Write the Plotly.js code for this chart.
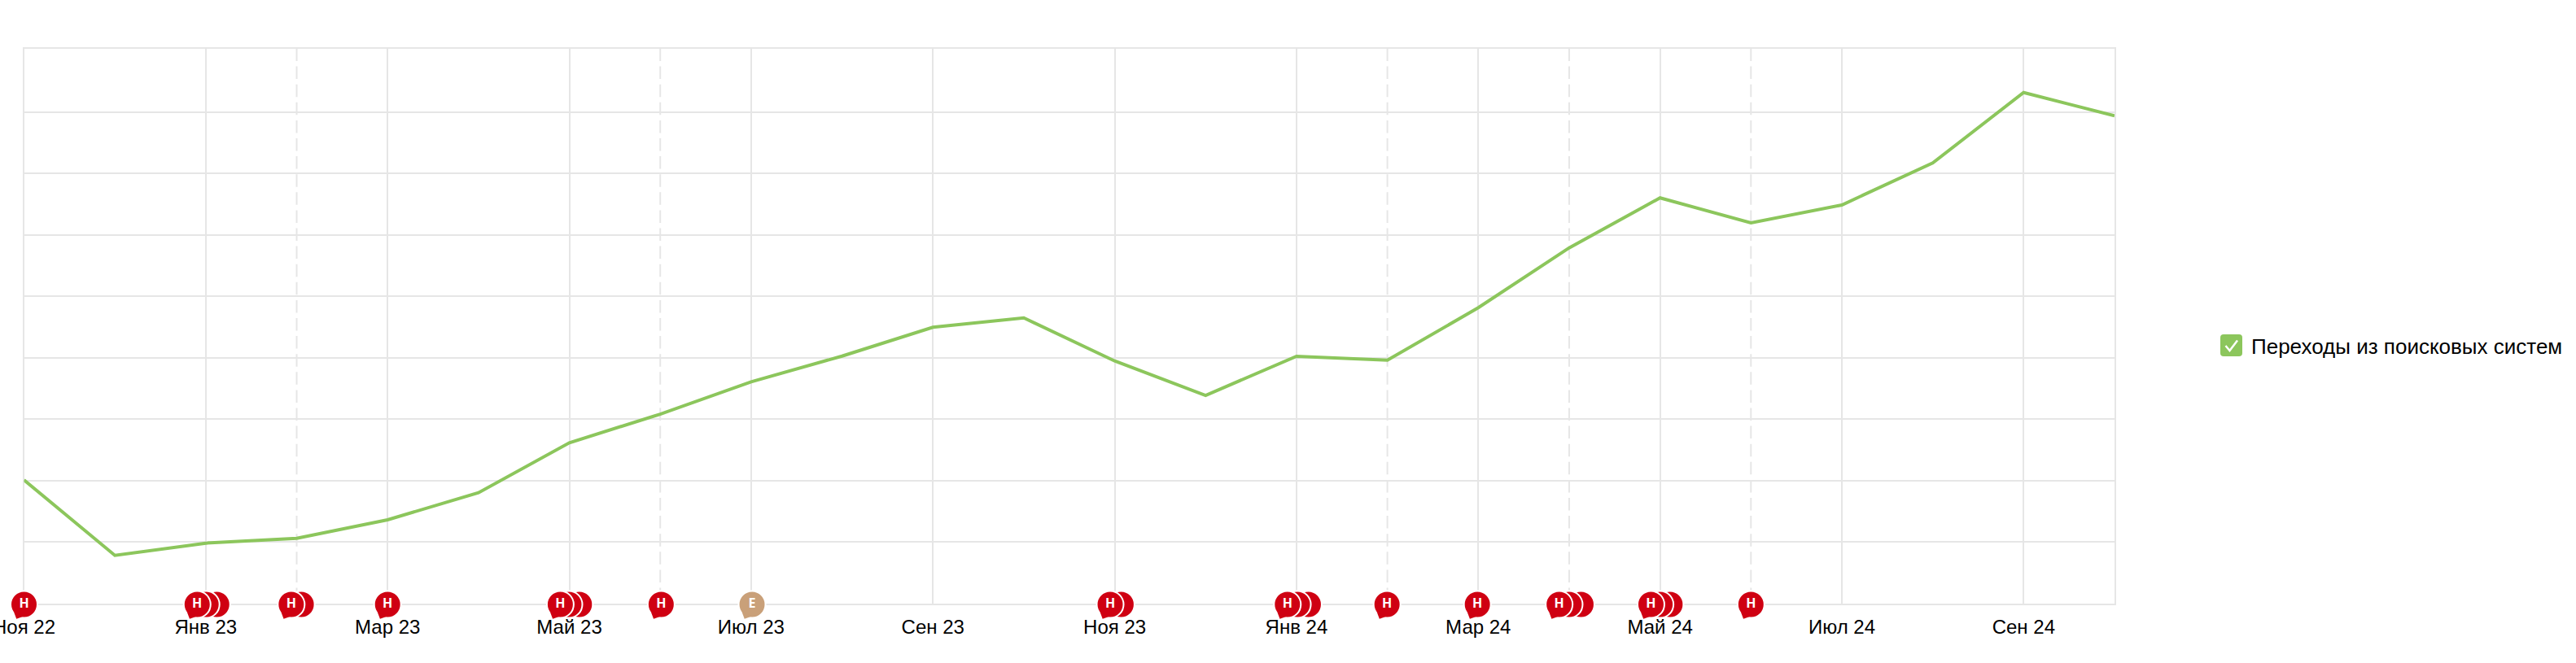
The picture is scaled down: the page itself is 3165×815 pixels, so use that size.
<!DOCTYPE html>
<html>
<head>
<meta charset="utf-8">
<script src="https://cdn.plot.ly/plotly-3.0.1.min.js"></script>
<style>html,body{margin:0;padding:0;background:#fff}</style>
</head>
<body>
<div id="chart" style="width:3165px;height:815px"></div>
<script>
// Month index 0 = Nov 22
const months = [0,1,2,3,4,5,6,7,8,9,10,11,12,13,14,15,16,17,18,19,20,21,22,23];
const visits = [2012,785,984,1063,1364,1804,2617,3084,3610,4028,4497,4650,3949,3389,4024,3962,4815,5789,6603,6195,6487,7171,8317,7939];
const tickMonths = [0,2,4,6,8,10,12,14,16,18,20,22];
const tickLabels = ['Ноя 22','Янв 23','Мар 23','Май 23','Июл 23','Сен 23','Ноя 23','Янв 24','Мар 24','Май 24','Июл 24','Сен 24'];
const yTicks = [0,1000,2000,3000,4000,5000,6000,7000,8000];
const dashedMonths = [3,7,15,17,19];
// Event bubbles, month position: third layer (rear), second layer, front layer
const newsRear = [2.12,6.11,14.13,17.13,18.11];
const newsMiddle = [2.003,3.05,5.995,12.07,14.01,17.0,18.0];
const newsFront = [0,1.905,2.94,4.0,5.9,7.01,11.95,13.9,14.996,15.99,16.89,17.9,19.0];
const editFront = [8.01];
const seriesName = 'Переходы из поисковых систем';

const RED = '#cf0012', TAN = '#c9a079', GRID = '#e6e6e6', GREEN = '#8cc65c';
const FONT = '"Liberation Sans", Arial, sans-serif';
const W = 3165, H = 815;
const plotL = 29.5, plotR = 2598, plotT = 59.5, plotB = 742;
const XMAX = 23, YMAX = 9035;
const xUnit = (plotR - plotL) / XMAX, yUnit = (plotB - plotT) / YMAX;
const pxX = px => px / W;
const pxY = py => 1 - py / H;

// bubble baseline and tail offset, converted from pixels to axis units
const bubbleY = -1 / yUnit;
const tailDx = -7.5 / xUnit, tailDy = -15 / yUnit;

function tailTrace(xs, color) {
  return {x: xs.map(v => v + tailDx), y: xs.map(() => tailDy), xaxis: 'x2', yaxis: 'y2',
    mode: 'markers', type: 'scatter', hoverinfo: 'skip', showlegend: false,
    marker: {symbol: 'triangle-sw', size: 10, angle: -20, color: color, line: {width: 0}}};
}
function bubbleTrace(xs, color, letter) {
  return {x: xs, y: xs.map(() => bubbleY), xaxis: 'x2', yaxis: 'y2', type: 'scatter',
    mode: letter ? 'markers+text' : 'markers',
    text: letter ? xs.map(() => letter) : undefined, textposition: 'middle center',
    textfont: {family: '"Open Sans", sans-serif', size: 16, color: '#fff', weight: 700},
    hoverinfo: 'skip', showlegend: false,
    marker: {symbol: 'circle', size: 33, color: color, line: {color: '#fff', width: 2}}};
}

const dashX = [], dashY = [];
dashedMonths.forEach(m => { dashX.push(m, m, null); dashY.push(YMAX, 0, null); });

const traces = [
  {x: dashX, y: dashY, type: 'scatter', mode: 'lines', hoverinfo: 'skip', showlegend: false,
   line: {color: GRID, width: 2, dash: '15.5px,6.6px'}},
  {x: months, y: visits, type: 'scatter', mode: 'lines', name: seriesName, showlegend: false,
   line: {color: GREEN, width: 4}},
  bubbleTrace(newsRear, RED),
  bubbleTrace(newsMiddle, RED),
  bubbleTrace(newsFront, RED, 'Н'),
  bubbleTrace(editFront, TAN, 'Е'),
  tailTrace(newsFront, RED),
  tailTrace(editFront, TAN)
];

const layout = {
  width: W, height: H,
  margin: {l: 0, r: 0, t: 0, b: 0, pad: 0},
  paper_bgcolor: '#fff', plot_bgcolor: 'rgba(0,0,0,0)',
  showlegend: false,
  font: {family: FONT, color: '#000', size: 24},
  xaxis: {type: 'linear', domain: [plotL / W, plotR / W], range: [0, XMAX], anchor: 'y',
    tickmode: 'array', tickvals: tickMonths, ticktext: tickLabels,
    showgrid: true, gridcolor: GRID, gridwidth: 2, zeroline: false, layer: 'below traces',
    showline: true, mirror: true, linecolor: GRID, linewidth: 2, ticklabeloverflow: 'allow',
    ticks: '', tickfont: {family: FONT, size: 24, color: '#000'}, ticklabelstandoff: 6},
  yaxis: {domain: [1 - plotB / H, 1 - plotT / H], range: [0, YMAX], anchor: 'x',
    tickmode: 'array', tickvals: yTicks, showticklabels: false,
    showgrid: true, gridcolor: GRID, gridwidth: 2, zeroline: false, layer: 'below traces',
    showline: true, mirror: true, linecolor: GRID, linewidth: 2, ticks: ''},
  // separate full-page axes on the same scale, so bubbles may extend past the plot edge
  xaxis2: {domain: [0, 1], range: [-plotL / xUnit, (W - plotL) / xUnit], anchor: 'y2', visible: false},
  yaxis2: {domain: [0, 1], range: [-(H - plotB) / yUnit, plotB / yUnit], anchor: 'x2', visible: false},
  shapes: [
    {type: 'path', xref: 'paper', yref: 'paper', fillcolor: GREEN, line: {width: 0},
     path: `M${pxX(2732)},${pxY(411)} L${pxX(2751)},${pxY(411)} Q${pxX(2755)},${pxY(411)} ${pxX(2755)},${pxY(415)}
            L${pxX(2755)},${pxY(434)} Q${pxX(2755)},${pxY(438)} ${pxX(2751)},${pxY(438)}
            L${pxX(2732)},${pxY(438)} Q${pxX(2728)},${pxY(438)} ${pxX(2728)},${pxY(434)}
            L${pxX(2728)},${pxY(415)} Q${pxX(2728)},${pxY(411)} ${pxX(2732)},${pxY(411)} Z`},
    {type: 'path', xref: 'paper', yref: 'paper', line: {color: '#fff', width: 2.5},
     path: `M${pxX(2734.5)},${pxY(425)} L${pxX(2739.5)},${pxY(431)} L${pxX(2749)},${pxY(418.5)}`}
  ],
  annotations: [
    {xref: 'paper', yref: 'paper', x: pxX(2764), y: pxY(425.5), xanchor: 'left', yanchor: 'middle', showarrow: false,
     text: seriesName, font: {family: FONT, size: 26, color: '#000'}}
  ]
};

Plotly.newPlot('chart', traces, layout, {displayModeBar: false, staticPlot: true});
</script>
</body>
</html>
